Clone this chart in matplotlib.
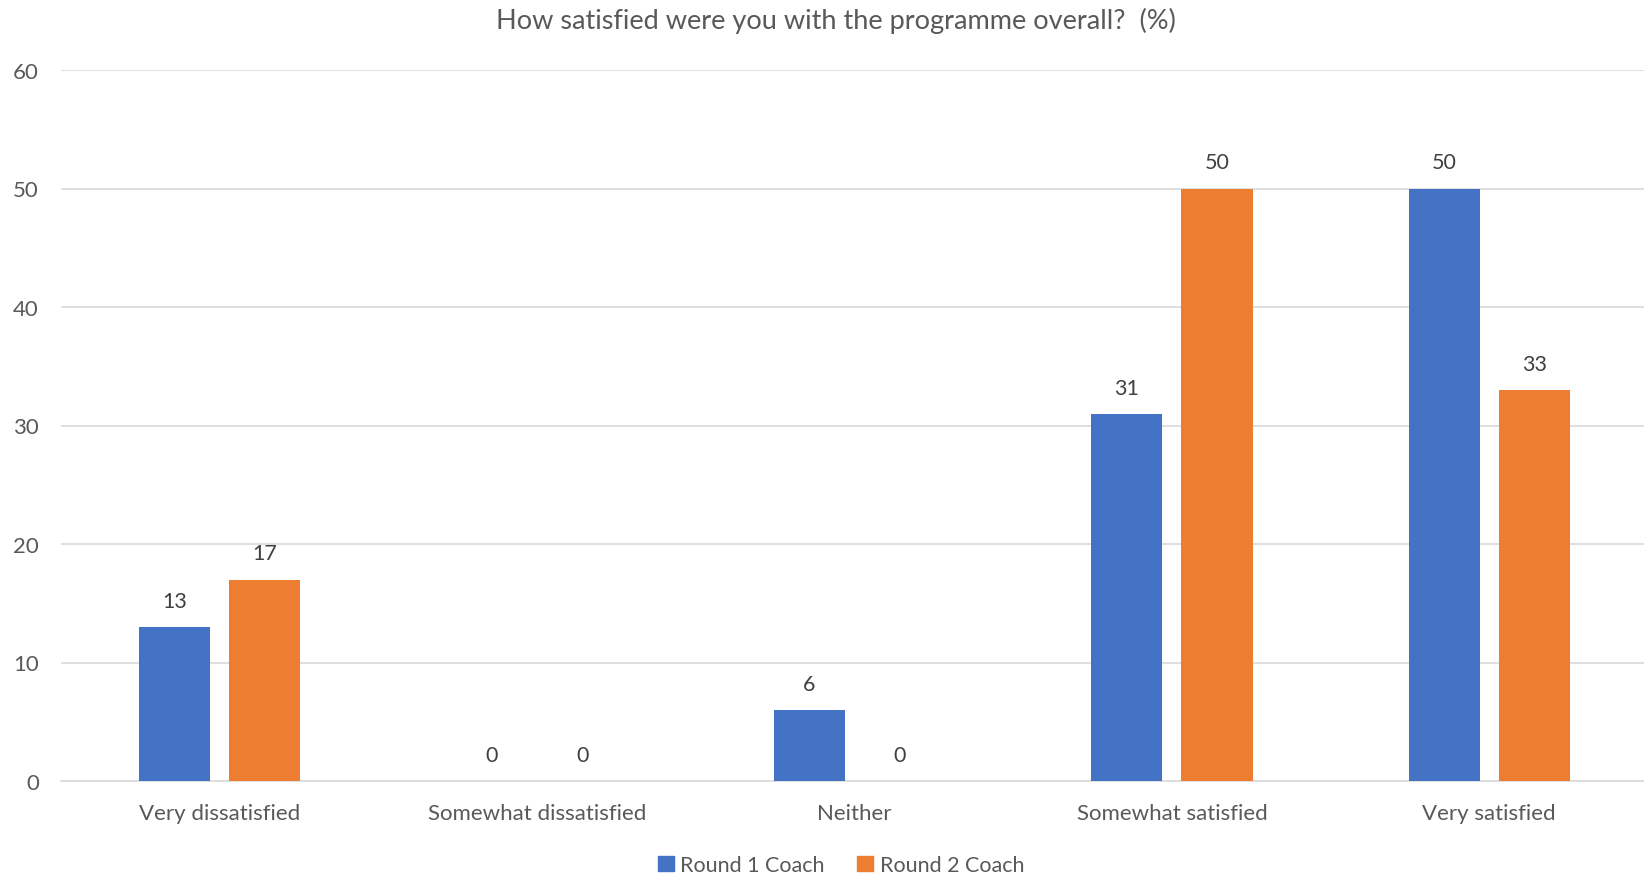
import numpy as np
import matplotlib.pyplot as plt
from matplotlib.patches import Patch

# survey results (%)
categories = ["Very dissatisfied", "Somewhat dissatisfied", "Neither",
              "Somewhat satisfied", "Very satisfied"]
round1 = [13, 0, 6, 31, 50]
round2 = [17, 0, 0, 50, 33]
series_names = ["Round 1 Coach", "Round 2 Coach"]
yticks = [0, 10, 20, 30, 40, 50, 60]

blue = "#4472C4"
orange = "#ED7D31"
txt = "#595959"
grid = "#D9D9D9"

plt.rcParams['font.family'] = ['Lato', 'DejaVu Sans']

fig = plt.figure(figsize=(16.44, 8.79), dpi=100)
# plot area runs a few px past the right edge, like the original
ax = fig.add_axes([61/1644, 1 - 782/879, 1587/1644, (782 - 71)/879])

x = np.arange(len(categories))
w = 0.224
off = 0.142
ax.bar(x - off, round1, w, color=blue, zorder=3)
ax.bar(x + off, round2, w, color=orange, zorder=3)

for xi, v in zip(x - off, round1):
    ax.text(xi, v + 2.2, str(v), ha='center', va='center', fontsize=15.5, color="#404040")
for xi, v in zip(x + off, round2):
    ax.text(xi, v + 2.2, str(v), ha='center', va='center', fontsize=15.5, color="#404040")

ax.set_xlim(-0.5, len(categories) - 0.5)
ax.set_ylim(0, 60)
ax.set_yticks(yticks)
ax.set_xticks(x)
ax.set_xticklabels(categories)
ax.tick_params(axis='both', length=0, labelsize=16, colors=txt)
ax.tick_params(axis='y', pad=16)
ax.tick_params(axis='x', pad=15.5)
ax.yaxis.grid(True, color=grid, lw=1.2, zorder=0)
for s in ['top', 'right', 'left']:
    ax.spines[s].set_visible(False)
ax.spines['bottom'].set_color(grid)
ax.spines['bottom'].set_linewidth(1.2)

fig.text(836/1644, 1 - 21/879, "How satisfied were you with the programme overall?  (%)",
         ha='center', va='center', fontsize=19.5, color=txt)

handles = [Patch(color=blue), Patch(color=orange)]
fig.legend(handles, series_names, loc='center', bbox_to_anchor=(841/1644, 1 - 866/879),
           ncol=2, frameon=False, fontsize=15.5, labelcolor=txt,
           handlelength=0.75, handleheight=0.75, handletextpad=0.3, columnspacing=1.5)

fig.savefig("out.png", dpi=100, facecolor='white')
